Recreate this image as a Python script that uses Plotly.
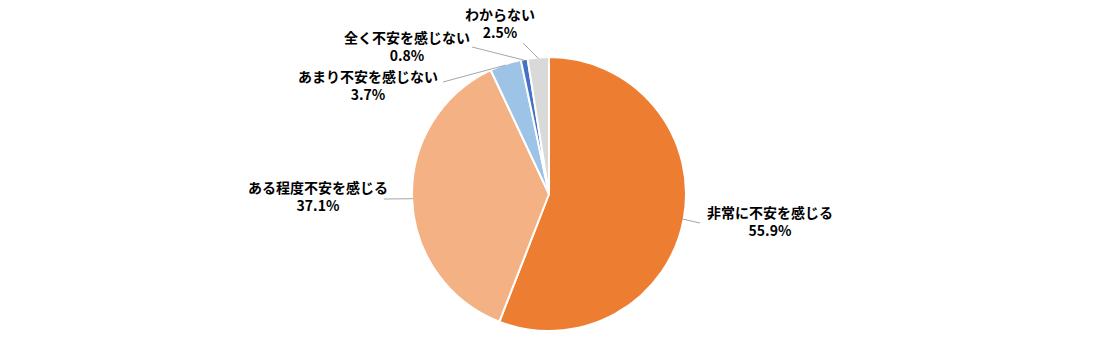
import math
import plotly.graph_objects as go

labels = ["非常に不安を感じる", "ある程度不安を感じる", "あまり不安を感じない", "全く不安を感じない", "わからない"]
values = [55.9, 37.1, 3.7, 0.8, 2.5]
colors = ["#ED7D31", "#F4B183", "#9DC3E6", "#4472C4", "#D9D9D9"]
# label text centre positions (pixels) and leader-line end points near the text
label_pos = [(770, 221), (318, 196), (368, 85), (407, 46), (500, 23)]
leader_end = [(700, 223), (384, 199), (443, 82), (472, 47), (523, 43)]

W, H = 1100, 337
cx, cy, r = 549, 194, 137

fig = go.Figure(go.Pie(
    labels=labels, values=values, sort=False, direction="clockwise", rotation=0,
    marker=dict(colors=colors, line=dict(color="white", width=2)),
    textinfo="none", hoverinfo="label+percent", showlegend=False,
    domain=dict(x=[(cx - r) / W, (cx + r) / W], y=[1 - (cy + r) / H, 1 - (cy - r) / H]),
))

total = sum(values)
cum = 0
for lab, v, (tx, ty), (ex, ey) in zip(labels, values, label_pos, leader_end):
    mid = (cum + v / 2) / total * 2 * math.pi
    cum += v
    px = cx + (r - 1) * math.sin(mid)
    py = cy - (r - 1) * math.cos(mid)
    fig.add_shape(type="line", xref="paper", yref="paper",
                  x0=px / W, y0=1 - py / H, x1=ex / W, y1=1 - ey / H,
                  line=dict(color="#A6A6A6", width=1))
    fig.add_annotation(
        x=tx / W, y=1 - ty / H, xref="paper", yref="paper",
        xanchor="center", yanchor="middle",
        text=f"<b>{lab}<br>{v:.1f}%</b>", showarrow=False,
        font=dict(family="Noto Sans CJK JP", size=14, color="#000000"),
        align="center",
    )

fig.update_layout(width=W, height=H, margin=dict(l=0, r=0, t=0, b=0),
                  paper_bgcolor="white", plot_bgcolor="white")
fig.write_html("out.html")
